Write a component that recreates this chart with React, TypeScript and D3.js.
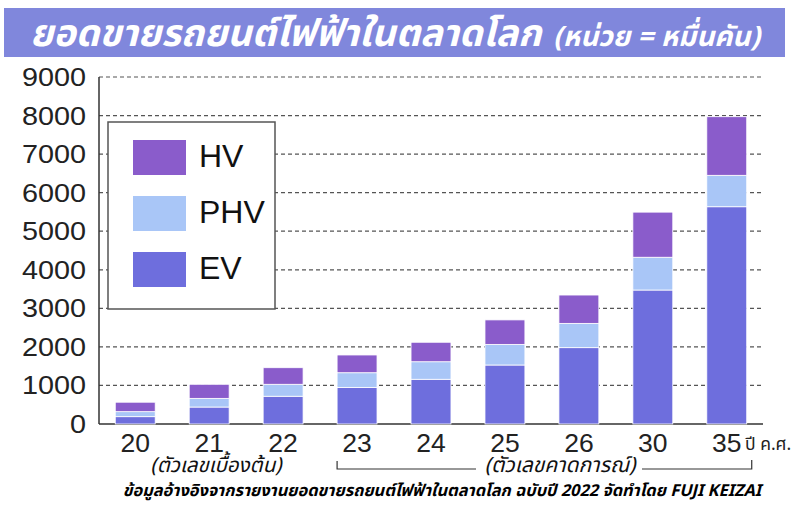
import React from "react";
import * as d3 from "d3";

const years = ["20", "21", "22", "23", "24", "25", "26", "30", "35"];
const ev = [190, 440, 720, 950, 1160, 1530, 1980, 3475, 5635];
const phv = [130, 225, 310, 380, 455, 535, 630, 850, 815];
const hv = [245, 365, 430, 460, 505, 635, 735, 1170, 1520];
const yTicks = [0, 1000, 2000, 3000, 4000, 5000, 6000, 7000, 8000, 9000];
const seriesKeys = ["EV", "PHV", "HV"];
const legendKeys = ["HV", "PHV", "EV"];

const title = "ยอดขายรถยนต์ไฟฟ้าในตลาดโลก";
const titleUnit = "(หน่วย = หมื่นคัน)";
const prelimLabel = "(ตัวเลขเบื้องต้น)";
const forecastLabel = "(ตัวเลขคาดการณ์)";
const yearUnit = "ปี ค.ศ.";
const sourceText = "ข้อมูลอ้างอิงจากรายงานยอดขายรถยนต์ไฟฟ้าในตลาดโลก ฉบับปี 2022 จัดทำโดย FUJI KEIZAI";

const colors: Record<string, string> = { HV: "#8a5ccb", PHV: "#a9c6f7", EV: "#6e6edd" };

const W = 794;
const H = 508;
const thaiFont = "'Noto Sans Thai', 'Noto Sans', 'DejaVu Sans', sans-serif";
const numFont = "'Liberation Sans', Arial, Helvetica, sans-serif";

export default function App() {
  const x = d3.scaleBand<string>().domain(years).range([99, 763]).paddingInner(0.46).paddingOuter(0.22);
  const y = d3.scaleLinear().domain([0, 9000]).range([424, 77]);
  const rows = years.map((yr, i) => ({ year: yr, EV: ev[i], PHV: phv[i], HV: hv[i] }));
  const stacked = d3.stack<any>().keys(seriesKeys)(rows);

  const x23 = x("23")!;
  const x35 = x("35")! + x.bandwidth();

  return (
    <svg width={W} height={H} style={{ position: "absolute", left: 0, top: 0, background: "#fff" }}>
      <rect x={0} y={0} width={W} height={H} fill="#fff" />
      {/* title banner */}
      <rect x={4} y={8} width={781} height={49} fill="#8087dc" />
      <text x={30} y={46} fill="#fff" fontFamily={thaiFont} fontWeight="bold" fontStyle="italic" fontSize={37.5}>
        {title}
        <tspan dx={12} fontSize={28}>{titleUnit}</tspan>
      </text>

      {/* gridlines */}
      {yTicks.filter((t) => t > 0).map((t) => (
        <line key={t} x1={99} x2={763} y1={y(t)} y2={y(t)} stroke="#555" strokeWidth={1.2} strokeDasharray="4,3" />
      ))}

      {/* axes */}
      <line x1={99} x2={99} y1={y(9000)} y2={y(0)} stroke="#333" strokeWidth={1.5} />
      <line x1={99} x2={763} y1={y(0)} y2={y(0)} stroke="#333" strokeWidth={1.5} />

      {/* bars */}
      {stacked.map((s) => (
        <g key={s.key} fill={colors[s.key]}>
          {s.map((d, i) => (
            <rect
              key={i}
              x={x(years[i])}
              y={y(d[1])}
              width={x.bandwidth()}
              height={y(d[0]) - y(d[1])}
              stroke="#fff"
              strokeWidth={0.8}
            />
          ))}
        </g>
      ))}

      {/* y tick labels */}
      {yTicks.map((t) => (
        <text
          key={t}
          transform={`translate(86,${y(t) + 9}) scale(1.13,1)`}
          textAnchor="end"
          fontFamily={numFont}
          fontSize={25.5}
          fill="#222"
        >
          {t}
        </text>
      ))}

      {/* x tick labels */}
      {years.map((yr) => (
        <text key={yr} x={x(yr)! + x.bandwidth() / 2} y={452} textAnchor="middle" fontFamily={numFont} fontSize={26.5} fill="#222">
          {yr}
        </text>
      ))}
      <text x={745} y={450} fontFamily={thaiFont} fontSize={17.5} fill="#222">{yearUnit}</text>

      {/* legend */}
      <rect x={108} y={122} width={167} height={187} fill="#fff" stroke="#555" strokeWidth={1.5} />
      {legendKeys.map((k, i) => {
        const sy = [140, 196, 252][i];
        return (
          <g key={k}>
            <rect x={133} y={sy} width={53} height={35} fill={colors[k]} />
            <text x={199} y={sy + 27} fontFamily={numFont} fontSize={32} fill="#111">{k}</text>
          </g>
        );
      })}

      {/* annotations */}
      <text x={216} y={472} textAnchor="middle" fontFamily={thaiFont} fontStyle="italic" fontSize={20.5} fill="#111">
        {prelimLabel}
      </text>
      <path d={`M${x23},461 V469 H476`} fill="none" stroke="#333" strokeWidth={1.2} />
      <path d={`M642,469 H${x35 + 5} V460`} fill="none" stroke="#333" strokeWidth={1.2} />
      <text x={560} y={472} textAnchor="middle" fontFamily={thaiFont} fontStyle="italic" fontSize={21} fill="#111">
        {forecastLabel}
      </text>
      <text x={442} y={496} textAnchor="middle" fontFamily={thaiFont} fontStyle="italic" fontWeight="bold" fontSize={16.4} fill="#000">
        {sourceText}
      </text>
    </svg>
  );
}
